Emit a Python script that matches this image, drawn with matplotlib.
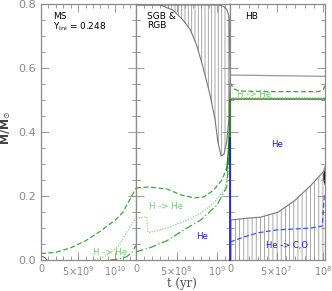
import numpy as np
import matplotlib.pyplot as plt
from matplotlib.ticker import MultipleLocator

plt.rcParams['hatch.linewidth'] = 0.6

# ---------------- data ----------------
# MS panel (t in yr, M in Msun)
ms_t_outer = [0, 0.2e10, 0.4e10, 0.6e10, 0.8e10, 1.0e10, 1.1e10, 1.2e10, 1.28e10]
ms_m_outer = [0.02, 0.024, 0.038, 0.06, 0.09, 0.125, 0.148, 0.19, 0.225]
ms_t_mid = [0.72e10, 0.85e10, 0.95e10, 1.05e10, 1.15e10, 1.22e10, 1.28e10]
ms_m_mid = [0.0, 0.01, 0.025, 0.045, 0.085, 0.11, 0.13]
ms_t_inner = [0.93e10, 1.05e10, 1.15e10, 1.22e10, 1.28e10]
ms_m_inner = [0.0, 0.003, 0.01, 0.022, 0.045]
ms_t_core = [0, 0.05e10, 0.08e10]
ms_m_core = [0.012, 0.008, 0.0]

# SGB & RGB panel
rgb_t_outer = [0, 0.16e9, 0.38e9, 0.56e9, 0.72e9, 0.84e9, 0.96e9, 1.06e9, 1.14e9, 1.16e9]
rgb_m_outer = [0.225, 0.228, 0.222, 0.203, 0.194, 0.197, 0.219, 0.25, 0.30, 0.42]
rgb_t_mid = [0, 0.13e9, 0.15e9, 0.38e9, 0.59e9, 0.8e9, 0.96e9, 1.09e9, 1.15e9, 1.16e9]
rgb_m_mid = [0.13, 0.135, 0.085, 0.1, 0.12, 0.146, 0.178, 0.22, 0.28, 0.40]
rgb_t_inner = [0, 0.19e9, 0.38e9, 0.59e9, 0.8e9, 1.0e9, 1.12e9, 1.16e9]
rgb_m_inner = [0.025, 0.04, 0.06, 0.094, 0.125, 0.172, 0.228, 0.38]
rgb_t_shell = [1.12e9, 1.14e9, 1.155e9, 1.16e9]
rgb_m_shell = [0.28, 0.34, 0.42, 0.50]
env_t = [0, 0.3e9, 0.46e9, 0.58e9, 0.67e9, 0.75e9, 0.83e9, 0.91e9, 0.975e9,
         1.01e9, 1.05e9, 1.085e9, 1.12e9, 1.15e9, 1.16e9]
env_bot = [0.797, 0.797, 0.78, 0.75, 0.72, 0.67, 0.60, 0.52, 0.44,
           0.37, 0.325, 0.33, 0.37, 0.45, 0.57]
env_top = [0.797, 0.797, 0.797, 0.797, 0.797, 0.797, 0.797, 0.797, 0.797,
           0.797, 0.795, 0.792, 0.783, 0.76, 0.575]

# HB panel
hb_t_mass = [0, 1.02e8]
hb_m_mass = [0.578, 0.574]
hb_t_shell = [0, 0, 0.02e8, 1.02e8]
hb_m_shell = [0.30, 0.50, 0.503, 0.503]
hb_t_dash = [0, 0.04e8, 0.1e8, 0.5e8, 0.95e8, 1.0e8, 1.02e8]
hb_m_dash = [0.555, 0.535, 0.528, 0.526, 0.526, 0.532, 0.545]
hb_t_dot = [0.02e8, 1.02e8]
hb_m_dot = [0.508, 0.508]
hb_t_core = [0.01e8, 0.16e8, 0.33e8, 0.52e8, 0.7e8, 0.87e8, 1.0e8, 1.02e8]
hb_m_core = [0.125, 0.13, 0.134, 0.15, 0.187, 0.234, 0.275, 0.29]
hb_t_co = [0, 0.15e8, 0.3e8, 0.5e8, 0.7e8, 0.87e8, 0.99e8, 1.0e8, 1.015e8]
hb_m_co = [0.056, 0.072, 0.085, 0.094, 0.097, 0.1, 0.106, 0.15, 0.21]
hb_t_flash = [0, 0]
hb_m_flash = [0, 0.38]
hb_t_pulse = [0.997e8, 1.02e8]
hb_pulse_lo = [0.25, 0.23]
hb_pulse_hi = [0.27, 0.29]

# ---------------- figure ----------------
GREEN = '#3fa53f'
LGREEN = '#8fd28f'
DGREEN = '#1f7f1f'
BLUE = '#1a1ad6'
LBLUE = '#3a55f5'
GRAY = '#8a8a8a'
HGRAY = '#9a9a9a'

fig = plt.figure(figsize=(3.32, 2.91), dpi=100)
B, H = 31 / 291, 256 / 291
ax1 = fig.add_axes([41 / 332, B, 95 / 332, H])
ax2 = fig.add_axes([136 / 332, B, 94 / 332, H])
ax3 = fig.add_axes([230 / 332, B, 95 / 332, H])

for ax in (ax1, ax2, ax3):
    ax.set_ylim(0, 0.8)
    ax.yaxis.set_major_locator(MultipleLocator(0.2))
    ax.yaxis.set_minor_locator(MultipleLocator(0.05))
    ax.tick_params(which='both', direction='in', top=True, right=True,
                   color=GRAY, labelcolor='#888888', width=0.6)
    ax.tick_params(which='major', length=5.5)
    ax.tick_params(which='minor', length=3)
    ax.tick_params(axis='y', labelsize=8)
    ax.tick_params(axis='x', labelsize=7, pad=3)
    for s in ax.spines.values():
        s.set_color(GRAY)
        s.set_linewidth(0.9)

# MS
ax1.plot(ms_t_outer, ms_m_outer, color=GREEN, lw=0.9, dashes=(4, 2))
ax1.plot(ms_t_mid, ms_m_mid, color=LGREEN, lw=0.9, dashes=(1, 1.2))
ax1.plot(ms_t_inner, ms_m_inner, color=GREEN, lw=0.9, dashes=(6, 2, 1, 2))
ax1.plot(ms_t_core, ms_m_core, color='#555555', lw=0.7)
ax1.set_xlim(0, 1.28e10)
ax1.set_xticks([0, 5e9, 1e10])
ax1.set_xticklabels(['0', r'$5{\times}10^9$', r'$10^{10}$'])
ax1.xaxis.set_minor_locator(MultipleLocator(1e9))
ax1.text(0.126, 0.97, 'MS\nY$_{\\rm ini}$ = 0.248', transform=ax1.transAxes,
         fontsize=6.5, va='top', ha='left', linespacing=1.0)
ax1.text(0.93e10, 0.022, 'H -> He', color='#77c677', fontsize=6.2,
         ha='center', va='center')

# SGB & RGB
ax2.fill_between(env_t, env_bot, env_top, facecolor='none', edgecolor=HGRAY,
                 hatch='|||||', linewidth=0)
ax2.plot(env_t, env_bot, color='#777777', lw=0.8)
ax2.plot(env_t, env_top, color='#777777', lw=0.8)
ax2.plot(rgb_t_outer, rgb_m_outer, color=GREEN, lw=0.9, dashes=(4, 2))
ax2.plot(rgb_t_mid, rgb_m_mid, color=LGREEN, lw=0.9, dashes=(1, 1.2))
ax2.plot(rgb_t_inner, rgb_m_inner, color=GREEN, lw=0.9, dashes=(6, 2, 1, 2))
ax2.plot(rgb_t_shell, rgb_m_shell, color=DGREEN, lw=1.0)
ax2.set_xlim(0, 1.16e9)
ax2.set_xticks([0, 5e8, 1e9])
ax2.set_xticklabels(['0', r'$5{\times}10^8$', r'$10^9$'])
ax2.xaxis.set_minor_locator(MultipleLocator(1e8))
ax2.tick_params(labelleft=False)
ax2.text(0.12, 0.97, 'SGB &\nRGB', transform=ax2.transAxes,
         fontsize=6.5, va='top', ha='left', linespacing=1.1)
ax2.text(0.37e9, 0.166, 'H -> He', color='#77c677', fontsize=6.2,
         ha='center', va='center')
ax2.text(0.81e9, 0.072, 'He', color=BLUE, fontsize=6.2, ha='center', va='center')

# HB
ax3.fill_between(hb_t_core, 0, hb_m_core, facecolor='none', edgecolor=HGRAY,
                 hatch='||||', linewidth=0)
ax3.plot(hb_t_core, hb_m_core, color='#777777', lw=0.8)
ax3.fill_between(hb_t_pulse, hb_pulse_lo, hb_pulse_hi, color='#111111', lw=0)
ax3.plot(hb_t_mass, hb_m_mass, color='#999999', lw=0.9)
ax3.plot(hb_t_dash, hb_m_dash, color=GREEN, lw=0.9, dashes=(4, 2))
ax3.plot(hb_t_dot, hb_m_dot, color=LGREEN, lw=0.9, dashes=(1, 1.2))
ax3.plot(hb_t_shell, hb_m_shell, color=DGREEN, lw=1.0, clip_on=False, zorder=3)
ax3.plot(hb_t_co, hb_m_co, color=LBLUE, lw=0.9, dashes=(4, 2))
ax3.plot(hb_t_flash, hb_m_flash, color=BLUE, lw=1.2, clip_on=False, zorder=3)
ax3.set_xlim(0, 1.02e8)
ax3.set_xticks([0, 5e7, 1e8])
ax3.set_xticklabels(['0', r'$5{\times}10^7$', r'$10^8$'])
ax3.xaxis.set_minor_locator(MultipleLocator(1e7))
ax3.tick_params(labelleft=False)
ax3.text(0.16, 0.97, 'HB', transform=ax3.transAxes,
         fontsize=6.5, va='top', ha='left')
ax3.text(0.08e8, 0.518, 'H -> He', color='#77c677', fontsize=6.2,
         ha='left', va='center')
ax3.text(0.5e8, 0.36, 'He', color=BLUE, fontsize=6.2, ha='center', va='center')
ax3.text(0.61e8, 0.045, 'He -> C,O', color=BLUE, fontsize=6.0,
         ha='center', va='center')

fig.text(182 / 332, 1 - 284 / 291, 't (yr)', family='DejaVu Serif',
         fontsize=8.5, color='#555555', ha='center', va='center')
fig.text(6 / 332, 1 - 128 / 291, r'M/M$_{\odot}$', fontsize=8, fontweight='bold',
         color='#444444', rotation=90, ha='center', va='center')

fig.savefig('out.png', dpi=100)
